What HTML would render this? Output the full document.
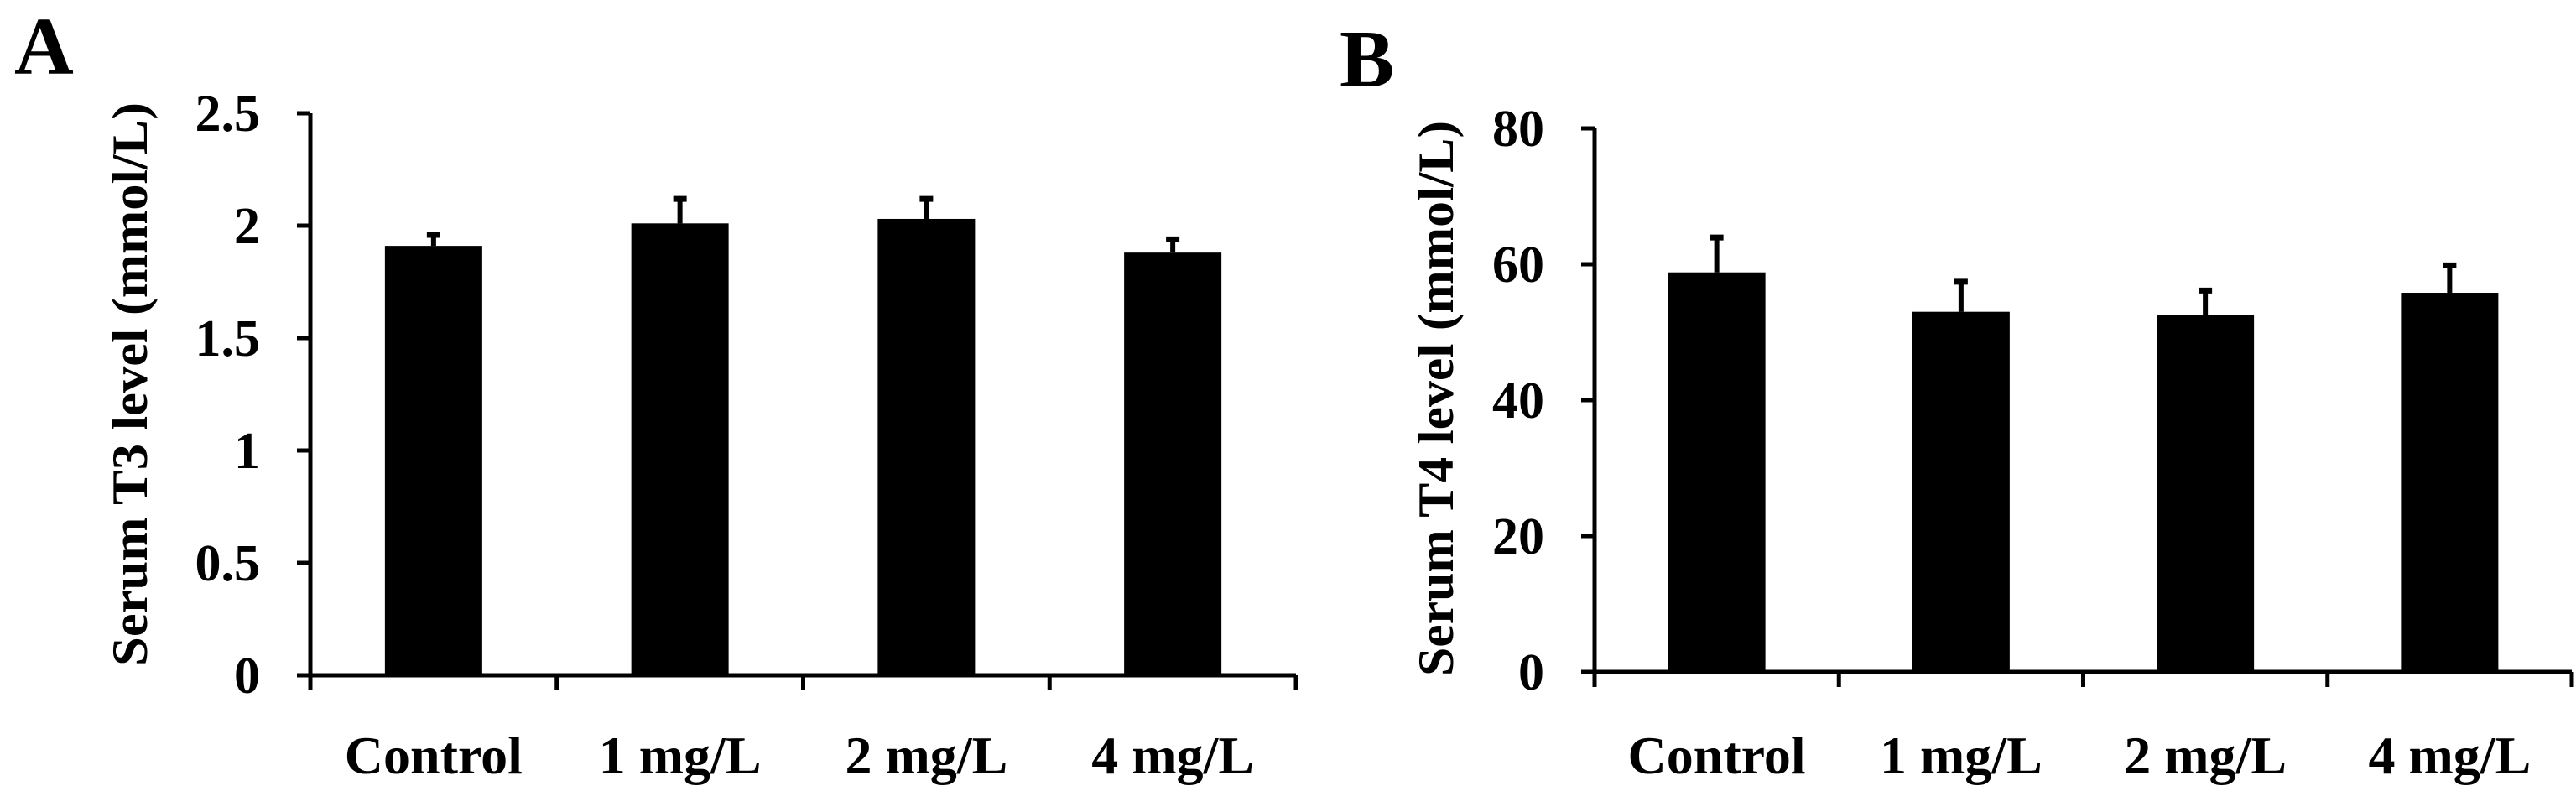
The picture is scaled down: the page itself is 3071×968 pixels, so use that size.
<!DOCTYPE html>
<html><head><meta charset="utf-8"><style>body{margin:0;background:#fff}svg text{font-family:"Liberation Serif",serif;font-weight:bold;fill:#000}</style></head>
<body>
<svg id="fig" width="3071" height="963" xmlns="http://www.w3.org/2000/svg"></svg>
<script>
const categories = ["Control", "1 mg/L", "2 mg/L", "4 mg/L"];
const t3Values = [1.91, 2.01, 2.03, 1.88];
const t3Errors = [0.06, 0.12, 0.10, 0.07];
const t3Ticks = [0, 0.5, 1, 1.5, 2, 2.5];
const t3TickLabels = ["0", "0.5", "1", "1.5", "2", "2.5"];
const t4Values = [58.8, 53.0, 52.5, 55.8];
const t4Errors = [5.5, 4.8, 4.0, 4.4];
const t4Ticks = [0, 20, 40, 60, 80];
const t4TickLabels = ["0", "20", "40", "60", "80"];

const NS = "http://www.w3.org/2000/svg";
const svg = document.getElementById("fig");
function mk(tag, attrs, parent) {
  const e = document.createElementNS(NS, tag);
  for (const k in attrs) e.setAttribute(k, attrs[k]);
  (parent || svg).appendChild(e);
  return e;
}
function panel(p) {
  const g = mk("g", {});
  
  
  const y = v => p.y0 - (v / p.max) * (p.y0 - p.yTop);
  const cw = (p.xEnd - p.x0) / p.cats.length;
  const L = mk("text", {x: p.letterX, y: p.letterY, "font-size": 98}, g);
  L.textContent = p.letter;
  
  
  // axes
  const ya = mk("line", {x1: p.x0, x2: p.x0, y1: p.yTop, y2: p.y0 + 2.5, stroke: "#000", "stroke-width": 5}, g);
  
  
  p.ticks.forEach((t, i) => {
    const tk = mk("line", {x1: p.x0 - 16, x2: p.x0, y1: y(t), y2: y(t), stroke: "#000", "stroke-width": 5}, g);
    
    
    const tl = mk("text", {x: p.x0 - 60, y: y(t) + 21, "font-size": 62, "text-anchor": "end"}, g);
    tl.textContent = p.tickLabels[i];
    
    
  });
  // bars
  p.cats.forEach((c, i) => {
    const cx = p.x0 + cw * (i + 0.5);
    const top = y(p.vals[i]);
    const et = y(p.vals[i] + p.errs[i]);
    const el = mk("line", {x1: cx, x2: cx, y1: et, y2: top, stroke: "#000", "stroke-width": 6}, g);
    
    
    const cap = mk("line", {x1: cx - 8, x2: cx + 8, y1: et + 3, y2: et + 3, stroke: "#000", "stroke-width": 7}, g);
    
    
    const b = mk("rect", {x: cx - 58, y: top, width: 116, height: p.y0 - top, fill: "#000"}, g);
    
    
    const lb = mk("text", {x: cx, y: 922, "font-size": 64, "text-anchor": "middle"}, g);
    lb.textContent = c;
    
    
  });
  const xa = mk("line", {x1: p.x0 - 16, x2: p.xEnd, y1: p.y0, y2: p.y0, stroke: "#000", "stroke-width": 5}, g);
  
  
  for (let i = 0; i <= p.cats.length; i++) {
    const tx = p.x0 + cw * i;
    const xt = mk("line", {x1: tx, x2: tx, y1: p.y0, y2: p.y0 + 18, stroke: "#000", "stroke-width": 5}, g);
    
    
  }
  const yt = mk("text", {x: 0, y: 0, "font-size": 60, "text-anchor": "middle", textLength: p.titleLen, lengthAdjust: "spacingAndGlyphs",
    transform: "translate(" + p.titleX + "," + p.titleY + ") rotate(-90)"}, g);
  yt.textContent = p.title;
  
  
}
panel({id: "t3", letter: "A", letterX: 17, letterY: 88, x0: 370, xEnd: 1545, y0: 805, yTop: 135, max: 2.5,
  ticks: t3Ticks, tickLabels: t3TickLabels, cats: categories, vals: t3Values, errs: t3Errors,
  title: "Serum T3 level (mmol/L)", titleX: 175, titleY: 458, titleLen: 672});
panel({id: "t4", letter: "B", letterX: 1597, letterY: 103, x0: 1901, xEnd: 3066, y0: 801, yTop: 153, max: 80,
  ticks: t4Ticks, tickLabels: t4TickLabels, cats: categories, vals: t4Values, errs: t4Errors,
  title: "Serum T4 level (mmol/L)", titleX: 1732, titleY: 475, titleLen: 662});
</script>
</body></html>
